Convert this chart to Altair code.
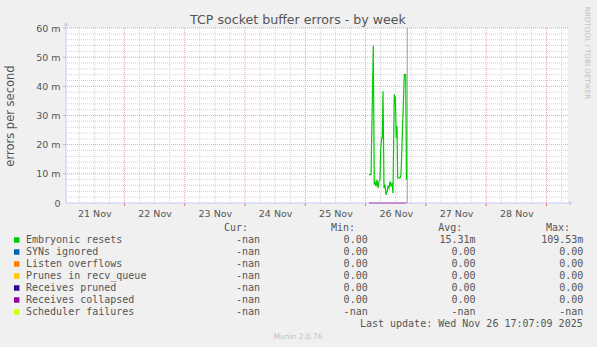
import math
import json
import altair as alt
import pandas as pd

# ---------------- data ----------------
title_text = "TCP socket buffer errors - by week"
y_title = "errors per second"
day_labels = ["21 Nov", "22 Nov", "23 Nov", "24 Nov", "25 Nov", "26 Nov", "27 Nov", "28 Nov"]
# label positions: noon of each day, in days since 20 Nov 00:00
day_label_pos = [1.5, 2.5, 3.5, 4.5, 5.5, 6.5, 7.5, 8.5]
y_ticks = [0, 10, 20, 30, 40, 50, 60]  # milli errors per second

# time in days since 20 Nov 00:00
t_days = [6.056, 6.090, 6.128, 6.144, 6.156, 6.173, 6.189, 6.206, 6.222, 6.239,
          6.250, 6.267, 6.277, 6.289, 6.305, 6.322, 6.338, 6.355, 6.372, 6.388,
          6.405, 6.421, 6.438, 6.454, 6.476, 6.493, 6.509, 6.521, 6.532, 6.549,
          6.571, 6.587, 6.642, 6.665, 6.678]
# Embryonic resets, in milli errors / second
embryonic_m = [9.7, 9.7, 54.0, 6.3, 7.4, 5.7, 8.0, 5.1, 7.4, 8.0,
               18.3, 22.3, 22.3, 38.3, 5.1, 6.3, 2.8, 4.0, 5.7, 5.1,
               7.4, 5.7, 6.9, 3.4, 37.2, 36.0, 22.3, 26.3, 8.6, 8.6,
               8.6, 9.7, 44.0, 44.0, 8.0]
now_day = 6.69

series_names = ["Embryonic resets", "SYNs ignored", "Listen overflows",
                "Prunes in recv_queue", "Receives pruned", "Receives collapsed",
                "Scheduler failures"]
series_colors = ["#00cc00", "#0066b3", "#ff8000", "#ffcc00", "#330099", "#990099", "#ccff00"]
nan = float("nan")
cur_vals = [nan, nan, nan, nan, nan, nan, nan]
min_vals = [0.0, 0.0, 0.0, 0.0, 0.0, 0.0, nan]
avg_vals = [0.01531, 0.0, 0.0, 0.0, 0.0, 0.0, nan]
max_vals = [0.10953, 0.0, 0.0, 0.0, 0.0, 0.0, nan]
last_update = "Last update: Wed Nov 26 17:07:09 2025"
footer_text = "Munin 2.0.76"
side_text = "RRDTOOL / TOBI OETIKER"

# ---------------- helpers ----------------
NB = "\u00a0"


def rrd_fmt(v):
    if v is None or (isinstance(v, float) and math.isnan(v)):
        return "-nan" + NB
    if v == 0:
        return "0.00" + NB
    if abs(v) < 1:
        return f"{v * 1000:.2f}m"
    return f"{v:.2f}" + NB


W, H = 502, 175
FONT = "DejaVu Sans"
MONO = "DejaVu Sans Mono"
TXT = "#555555"
AXC = "#c8c8f5"
one = pd.DataFrame({"k": [0]})

xs = alt.Scale(domain=[1.0315, 9.3566], nice=False, zero=False)
ys = alt.Scale(domain=[0, 60], nice=False, zero=False)

x_label_expr = json.dumps(day_labels) + "[round(datum.value - 1.5)]"
x_axis = alt.Axis(values=day_label_pos, labelExpr=x_label_expr, ticks=False, domain=False,
                  grid=False, labelFont=FONT, labelFontSize=9.5, labelColor=TXT,
                  labelPadding=5, title=None, labelFlush=False, labelOverlap=False)
y_axis = alt.Axis(values=y_ticks,
                  labelExpr="datum.value == 0 ? '0" + NB + NB + "' : datum.value + ' m'",
                  ticks=False, domain=False, grid=False, labelFont=FONT, labelFontSize=9.5,
                  labelColor=TXT, labelPadding=6, labelFlush=False, labelOverlap=False,
                  title=y_title, titleFont=FONT, titleFontSize=11.5, titleFontWeight="normal",
                  titleColor=TXT, titleX=-56, titleY=87.5, titleAngle=270,
                  titleAlign="center", titleBaseline="middle")


def X(field):
    return alt.X(field, type="quantitative", scale=xs, axis=x_axis)


def Y(field):
    return alt.Y(field, type="quantitative", scale=ys, axis=y_axis)


# ---------------- grid ----------------
minor_v = [k / 4 for k in range(5, 38) if k % 4 != 0]
major_v = [float(k) for k in range(2, 10) if k <= 9.35]
minor_h = [v for v in range(2, 60, 2) if v % 10 != 0]
major_h = [10, 20, 30, 40, 50, 60]

layers = []
layers.append(alt.Chart(pd.DataFrame({"p": minor_v})).mark_rule(
    color="#d2d2d2", strokeDash=[1, 1], strokeWidth=1).encode(x=X("p")))
layers.append(alt.Chart(pd.DataFrame({"p": minor_h})).mark_rule(
    color="#d2d2d2", strokeDash=[1, 1], strokeWidth=1).encode(y=Y("p")))
layers.append(alt.Chart(pd.DataFrame({"p": major_v})).mark_rule(
    color="#e6a3a3", strokeDash=[1, 1], strokeWidth=1).encode(x=X("p")))
layers.append(alt.Chart(pd.DataFrame({"p": major_h})).mark_rule(
    color="#e6a3a3", strokeDash=[1, 1], strokeWidth=1).encode(y=Y("p")))
# red ticks below the x axis / left of y axis
layers.append(alt.Chart(pd.DataFrame({"p": major_v})).mark_rule(
    color="#e07070", strokeWidth=1).encode(x=X("p"), y=alt.value(H), y2=alt.value(H + 3)))
layers.append(alt.Chart(pd.DataFrame({"p": major_h})).mark_rule(
    color="#e6a3a3", strokeWidth=1).encode(y=Y("p"), x=alt.value(-3), x2=alt.value(0)))

# axis lines with arrows
layers.append(alt.Chart(one).mark_rule(color=AXC, strokeWidth=1).encode(
    x=alt.value(0), y=alt.value(-5), y2=alt.value(H)))
layers.append(alt.Chart(one).mark_rule(color=AXC, strokeWidth=1).encode(
    x=alt.value(0), x2=alt.value(504), y=alt.value(H)))
layers.append(alt.Chart(one).mark_point(shape="triangle-up", filled=True, size=18,
                                        color=AXC, opacity=1).encode(
    x=alt.value(0), y=alt.value(-4)))
layers.append(alt.Chart(one).mark_point(shape="triangle-right", filled=True, size=18,
                                        color=AXC, opacity=1).encode(
    x=alt.value(505), y=alt.value(H)))

# "now" line
layers.append(alt.Chart(pd.DataFrame({"t": [now_day]})).mark_rule(
    color="#9a9a9a", strokeWidth=1).encode(x=X("t")))

# data: embryonic resets
line_df = pd.DataFrame({"t": t_days, "v": embryonic_m})
layers.append(alt.Chart(line_df).mark_line(color=series_colors[0], strokeWidth=1.2,
                                           interpolate="linear").encode(x=X("t"), y=Y("v")))
# the other series are flat at zero over the same time range; the last one drawn
# (Receives collapsed) is what remains visible on top
zdf = pd.DataFrame({"t": t_days, "v": [0.0] * len(t_days)})
layers.append(alt.Chart(zdf).mark_line(color=series_colors[5], strokeWidth=1,
                                       opacity=0.75).encode(x=X("t"), y=Y("v")))

# ---------------- texts ----------------
layers.append(alt.Chart(one).mark_text(font=FONT, fontSize=12.6, color=TXT, align="center",
                                       baseline="alphabetic").encode(
    x=alt.value(232), y=alt.value(-4), text=alt.value(title_text)))
layers.append(alt.Chart(one).mark_text(font=FONT, fontSize=7.2, color="#c0c0c0",
                                       align="center", baseline="middle", angle=90).encode(
    x=alt.value(521), y=alt.value(25), text=alt.value(side_text)))
layers.append(alt.Chart(one).mark_text(font=FONT, fontSize=7.5, color="#c0c0c0",
                                       align="center", baseline="middle").encode(
    x=alt.value(232), y=alt.value(309), text=alt.value(footer_text)))

legend_df = pd.DataFrame({
    "name": series_names,
    "color": series_colors,
    "cur": [rrd_fmt(v) for v in cur_vals],
    "mn": [rrd_fmt(v) for v in min_vals],
    "av": [rrd_fmt(v) for v in avg_vals],
    "mx": [rrd_fmt(v) for v in max_vals],
    "row": list(range(len(series_names))),
})
leg = alt.Chart(legend_df).transform_calculate(ly="215 + 12 * datum.row",
                                               sy="212 + 12 * datum.row")
layers.append(leg.mark_square(size=30, filled=True, opacity=1).encode(
    x=alt.value(-49.3), y=alt.Y("sy:Q", scale=None, axis=None),
    color=alt.Color("color:N", scale=None, legend=None)))
col_specs = [("name", -40, "left"), ("cur", 194, "right"), ("mn", 301.7, "right"),
             ("av", 409.5, "right"), ("mx", 517.3, "right")]
for field, xpos, al in col_specs:
    layers.append(leg.mark_text(font=MONO, fontSize=10, color=TXT, align=al,
                                baseline="alphabetic").encode(
        x=alt.value(xpos), y=alt.Y("ly:Q", scale=None, axis=None), text=f"{field}:N"))

headers = [("Cur:", 182), ("Min:", 289), ("Avg:", 396.3), ("Max:", 504)]
for txt, xpos in headers:
    layers.append(alt.Chart(one).mark_text(font=MONO, fontSize=10, color=TXT, align="right",
                                           baseline="alphabetic").encode(
        x=alt.value(xpos), y=alt.value(203), text=alt.value(txt)))
layers.append(alt.Chart(one).mark_text(font=MONO, fontSize=10, color=TXT, align="right",
                                       baseline="alphabetic").encode(
    x=alt.value(516.7), y=alt.value(299), text=alt.value(last_update)))

chart = alt.layer(*layers).properties(
    width=W, height=H,
    padding={"left": 66, "top": 28, "right": 29, "bottom": 144},
    autosize=alt.AutoSizeParams(type="none"),
    background="#f0f0f0",
).configure_view(fill="white", strokeWidth=0)

chart.save("out.html", embed_options={"renderer": "svg", "actions": False})
